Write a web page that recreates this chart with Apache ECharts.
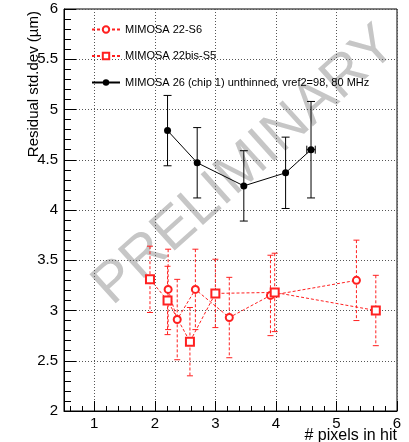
<!DOCTYPE html>
<html>
<head>
<meta charset="utf-8">
<script src="https://cdn.jsdelivr.net/npm/echarts@6/dist/echarts.min.js"></script>
<style>
  html, body { margin: 0; padding: 0; background: #fff; }
  #chart { width: 409px; height: 442px; }
</style>
</head>
<body>
<div id="chart"></div>
<script>
// MIMOSA 26 (chip 1) unthinned
const m26X = [2.21, 2.70, 3.47, 4.16, 4.58];
const m26Y = [4.79, 4.47, 4.24, 4.37, 4.60];
const m26Err = [0.35, 0.35, 0.35, 0.355, 0.48];
const m26XErr = [0, 0, 0, 0, 0.07];

// MIMOSA 22-S6
const s6X = [2.22, 2.37, 2.67, 3.23, 3.91, 5.33];
const s6Y = [3.21, 2.91, 3.21, 2.93, 3.15, 3.30];
const s6Err = [0.40, 0.40, 0.40, 0.40, 0.40, 0.40];

// MIMOSA 22bis-S5
const s5X = [1.92, 2.21, 2.58, 3.00, 3.98, 5.65];
const s5Y = [3.31, 3.10, 2.69, 3.17, 3.18, 3.00];
const s5Err = [0.33, 0.34, 0.34, 0.34, 0.39, 0.35];

const names = ['MIMOSA 22-S6', 'MIMOSA 22bis-S5', 'MIMOSA 26 (chip 1) unthinned, vref2=98, 80 MHz'];
const FONT = 'Liberation Sans';

const pairs = (xs, ys) => xs.map((x, i) => [x, ys[i]]);

// error bars drawn from the axis scales
function errBars(id, xs, ys, errs, xerrs, color, dash, capW) {
  return {
    type: 'custom',
    name: id,
    z: 1,
    silent: true,
    data: xs.map((x, i) => [x, ys[i], errs[i], xerrs ? xerrs[i] : 0]),
    renderItem: function (params, api) {
      const x = api.value(0), y = api.value(1), e = api.value(2), ex = api.value(3);
      const top = api.coord([x, y + e]);
      const bot = api.coord([x, y - e]);
      const st = { stroke: color, lineWidth: 1, lineDash: dash };
      const cs = { stroke: color, lineWidth: 1 };
      const kids = [
        { type: 'line', shape: { x1: top[0], y1: top[1], x2: bot[0], y2: bot[1] }, style: st },
        { type: 'line', shape: { x1: top[0] - capW, y1: top[1], x2: top[0] + capW, y2: top[1] }, style: cs },
        { type: 'line', shape: { x1: bot[0] - capW, y1: bot[1], x2: bot[0] + capW, y2: bot[1] }, style: cs }
      ];
      if (ex > 0) {
        const l = api.coord([x - ex, y]), r = api.coord([x + ex, y]);
        kids.push({ type: 'line', shape: { x1: l[0], y1: l[1], x2: r[0], y2: r[1] }, style: cs });
        kids.push({ type: 'line', shape: { x1: l[0], y1: l[1] - capW, x2: l[0], y2: l[1] + capW }, style: cs });
        kids.push({ type: 'line', shape: { x1: r[0], y1: r[1] - capW, x2: r[0], y2: r[1] + capW }, style: cs });
      }
      return { type: 'group', children: kids };
    }
  };
}

const chart = echarts.init(document.getElementById('chart'));
chart.setOption({
  animation: false,
  backgroundColor: '#fff',
  textStyle: { fontFamily: FONT },
  grid: { left: 64, right: 12, top: 9, bottom: 31, show: true, borderColor: '#000', borderWidth: 1, backgroundColor: 'transparent' },
  legend: {
    data: names,
    orient: 'vertical',
    left: 86,
    top: 19,
    itemWidth: 28,
    itemHeight: 8,
    itemGap: 15.5,
    textStyle: { fontFamily: FONT, fontSize: 11, color: '#000' }
  },
  graphic: [
    {
      type: 'text', x: 245, y: 166, rotation: 42 * Math.PI / 180, z: 0, silent: true,
      style: { text: 'PRELIMINARY', fill: '#c6c6c6', font: '57px "Liberation Sans"', align: 'center', verticalAlign: 'middle' }
    },
    {
      type: 'text', x: 34, y: 11, rotation: Math.PI / 2, silent: true,
      style: { text: 'Residual std.dev (µm)', fill: '#000', font: '15px "Liberation Sans"', align: 'right', verticalAlign: 'middle' }
    },
    {
      type: 'text', x: 397, y: 436, silent: true,
      style: { text: '# pixels in hit', fill: '#000', font: '16px "Liberation Sans"', align: 'right', verticalAlign: 'middle' }
    }
  ],
  xAxis: {
    type: 'value',
    min: 0.5,
    max: 6,
    splitNumber: 5,
    axisLine: { lineStyle: { color: '#000', width: 1 } },
    axisTick: { inside: true, length: 10, lineStyle: { color: '#000' } },
    minorTick: { show: true, splitNumber: 5, length: 5, lineStyle: { color: '#000' } },
    splitLine: { show: true, lineStyle: { color: '#555', type: [1, 2], width: 1 } },
    axisLabel: {
      color: '#000', fontSize: 15, fontFamily: FONT, margin: 5, showMinLabel: false,
      formatter: v => (Math.abs(v - Math.round(v)) < 1e-6 ? String(Math.round(v)) : '')
    }
  },
  yAxis: {
    type: 'value',
    min: 2,
    max: 6,
    interval: 0.5,
    axisLine: { lineStyle: { color: '#000', width: 1 } },
    axisTick: { inside: true, length: 12, lineStyle: { color: '#000' } },
    minorTick: { show: true, splitNumber: 5, length: 7, lineStyle: { color: '#000' } },
    splitLine: { show: true, lineStyle: { color: '#555', type: [1, 2], width: 1 } },
    axisLabel: { color: '#000', fontSize: 15, fontFamily: FONT, margin: 6 }
  },
  series: [
    errBars('errS6', s6X, s6Y, s6Err, null, '#ff2020', [3, 2], 3),
    errBars('errS5', s5X, s5Y, s5Err, null, '#ff2020', [3, 2], 3),
    errBars('err26', m26X, m26Y, m26Err, m26XErr, '#000', null, 4),
    {
      name: names[0], type: 'line', z: 3,
      data: pairs(s6X, s6Y),
      symbol: 'emptyCircle', symbolSize: 7,
      lineStyle: { color: '#ff2020', width: 1, type: [3, 2] },
      itemStyle: { color: '#ff2020', borderColor: '#ff2020', borderWidth: 1 }
    },
    {
      name: names[1], type: 'line', z: 3,
      data: pairs(s5X, s5Y),
      symbol: 'emptyRect', symbolSize: 8,
      lineStyle: { color: '#ff2020', width: 1, type: [3, 2] },
      itemStyle: { color: '#ff2020', borderColor: '#ff2020', borderWidth: 1 }
    },
    {
      name: names[2], type: 'line', z: 3,
      data: pairs(m26X, m26Y),
      symbol: 'circle', symbolSize: 7,
      lineStyle: { color: '#000', width: 1 },
      itemStyle: { color: '#000' }
    }
  ]
});
</script>
</body>
</html>
